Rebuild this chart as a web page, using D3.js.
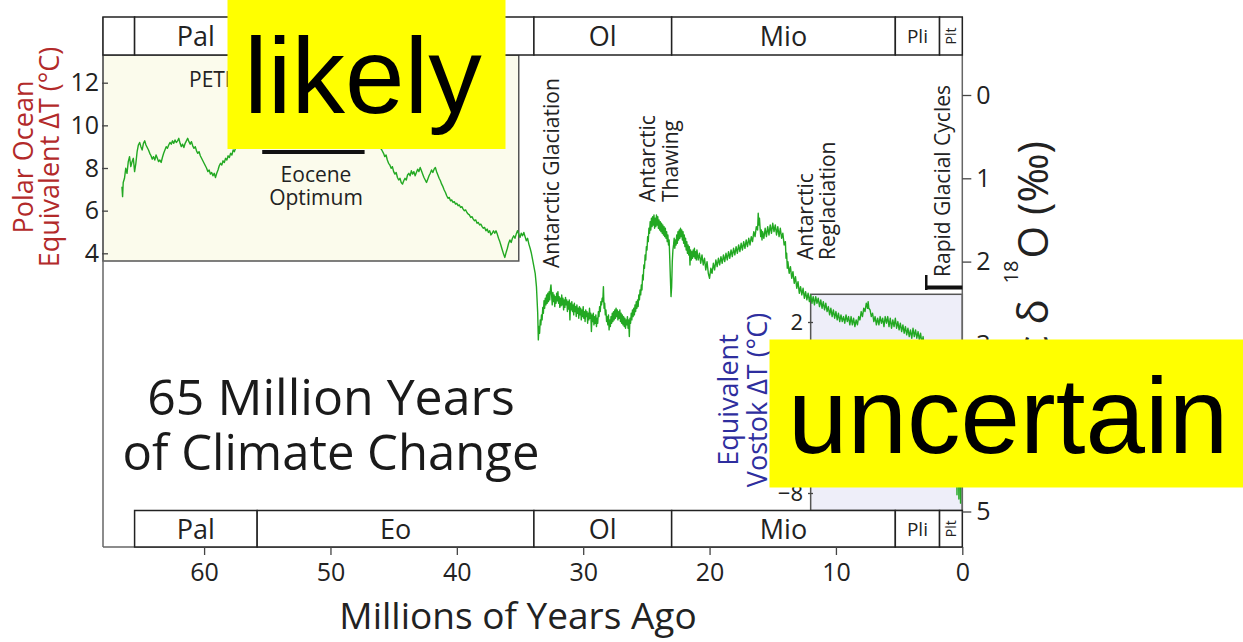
<!DOCTYPE html>
<html>
<head>
<meta charset="utf-8">
<script src="https://cdn.jsdelivr.net/npm/d3@7"></script>
<style>
  html, body { margin: 0; padding: 0; background: #fff; }
  svg { display: block; }
</style>
</head>
<body>
<svg id="chart" width="1243" height="642"></svg>
<script>
// ---------------- DATA ----------------
// Geological epochs (Ma)
const epochNames  = ["Pal", "Eo", "Ol", "Mio", "Pli", "Plt"];
const epochStarts = [65.5, 55.8, 33.9, 23.0, 5.3, 1.8];
const epochEnds   = [55.8, 33.9, 23.0, 5.3, 1.8, 0];

// Tick labels
const ageTicks     = [60, 50, 40, 30, 20, 10, 0];
const d18OTicks    = [0, 1, 2, 3, 4, 5];
const polarTicks   = [4, 6, 8, 10, 12];
const vostokTicks  = [2, 0, -2, -4, -6, -8];

// Benthic δ18O record, [age (Ma), δ18O (‰)]
const paleocene = [
  [66.5,1.10],[66.45,1.22],[66.4,1.05],[66.3,1.00],[66.2,0.88],[66.1,0.94],[66.0,0.80],[65.9,0.74],[65.8,0.86],[65.7,0.80],
  [65.6,0.76],[65.5,0.92],[65.4,0.82],[65.3,0.68],[65.2,0.60],[65.1,0.57],[65.0,0.62],[64.9,0.66],[64.8,0.58],[64.7,0.55],
  [64.6,0.60],[64.5,0.63],[64.4,0.66],[64.3,0.70],[64.2,0.73],[64.1,0.77],[64.0,0.74],[63.9,0.78],[63.8,0.72],[63.7,0.76],
  [63.6,0.80],[63.5,0.78],[63.4,0.81],[63.3,0.75],[63.2,0.70],[63.1,0.66],[63.0,0.62],[62.9,0.64],[62.8,0.60],[62.7,0.57],
  [62.6,0.59],[62.5,0.55],[62.4,0.58],[62.3,0.54],[62.2,0.57],[62.1,0.55],[62.0,0.52],[61.9,0.58],[61.8,0.62],[61.7,0.59],
  [61.6,0.63],[61.5,0.58],[61.4,0.55],[61.3,0.52],[61.2,0.56],[61.1,0.59],[61.0,0.56],[60.9,0.61],[60.8,0.64],[60.7,0.62],
  [60.6,0.67],[60.5,0.70],[60.4,0.68],[60.3,0.73],[60.2,0.76],[60.1,0.79],[60.0,0.82],[59.9,0.85],[59.8,0.88],[59.7,0.92],
  [59.6,0.90],[59.5,0.95],[59.4,0.93],[59.3,0.97],[59.2,0.94],[59.1,0.99],[59.0,0.94],[58.9,0.90],[58.8,0.85],[58.7,0.82],
  [58.6,0.84],[58.5,0.79],[58.4,0.81],[58.3,0.76],[58.2,0.78],[58.1,0.73],[58.0,0.75],[57.9,0.70],[57.8,0.72],[57.7,0.66],
  [57.6,0.68],[57.5,0.63]
];
const eocene = [
  [57.4,0.62],[57.0,0.55],[56.5,0.48],[56.0,0.40],[55.5,-0.15],[55.2,0.25],[54.5,0.20],[53.5,0.05],[52.5,-0.10],[51.5,-0.05],
  [50.5,0.00],[49.5,0.10],[48.5,0.25],[47.5,0.40],[46.8,0.50],[46.3,0.58],
  [45.94,0.66],[45.8,0.70],[45.7,0.74],[45.6,0.72],[45.5,0.78],[45.4,0.82],[45.3,0.84],[45.2,0.88],[45.1,0.86],[45.0,0.92],
  [44.9,0.95],[44.8,0.93],[44.7,0.99],[44.6,1.02],[44.5,1.00],[44.4,1.05],[44.3,1.07],[44.2,1.03],[44.1,1.00],[44.0,1.02],
  [43.9,0.96],[43.8,0.94],[43.7,0.97],[43.6,0.91],[43.5,0.95],[43.4,0.92],[43.3,0.97],[43.2,0.93],[43.1,0.89],[43.0,0.92],
  [42.9,0.87],[42.8,0.91],[42.7,0.95],[42.6,0.99],[42.5,1.02],[42.4,1.05],[42.3,1.01],[42.2,0.97],[42.1,0.94],[42.0,0.90],
  [41.9,0.93],[41.8,0.89],[41.7,0.87],[41.6,0.92],[41.5,0.96],[41.4,1.00],[41.3,1.03],[41.2,1.07],[41.1,1.10],[41.0,1.14],
  [40.9,1.17],[40.8,1.21],[40.7,1.24],[40.6,1.23],[40.5,1.27],[40.4,1.26],[40.3,1.29],[40.2,1.28],[40.1,1.31],[40.0,1.30],
  [39.9,1.33],[39.8,1.32],[39.7,1.35],[39.6,1.34],[39.5,1.37],[39.4,1.39],[39.3,1.38],[39.2,1.41],[39.1,1.43],[39.0,1.44],
  [38.9,1.47],[38.8,1.46],[38.7,1.49],[38.6,1.51],[38.5,1.50],[38.4,1.54],[38.3,1.53],[38.2,1.56],[38.1,1.55],[38.0,1.58],
  [37.9,1.60],[37.8,1.59],[37.7,1.63],[37.6,1.61],[37.5,1.65],[37.4,1.63],[37.3,1.68],[37.2,1.66],[37.1,1.63],[37.0,1.66],
  [36.9,1.63],[36.8,1.67],[36.7,1.72],[36.6,1.76],[36.5,1.81],[36.4,1.86],[36.3,1.91],[36.2,1.95],[36.1,1.89],[36.0,1.84],
  [35.9,1.78],[35.8,1.74],[35.7,1.77],[35.6,1.72],[35.5,1.69],[35.4,1.72],[35.3,1.67],[35.2,1.63],[35.1,1.67],[35.0,1.71],
  [34.9,1.66],[34.8,1.69],[34.7,1.65],[34.6,1.70],[34.5,1.75],[34.4,1.72],[34.3,1.79],[34.2,1.84],[34.1,1.90],[34.0,1.98],
  [33.9,2.06],[33.8,2.14],[33.7,2.30]
];
const oligocene = [
  [33.6,2.62],[33.55,2.94],[33.5,2.78],[33.45,2.86],[33.4,2.70],[33.35,2.76],[33.3,2.64],[33.25,2.70],[33.2,2.55],[33.15,2.62],
  [33.1,2.47],[33.05,2.56],[33.0,2.44],[32.95,2.52],[32.9,2.40],[32.85,2.50],[32.8,2.38],[32.75,2.48],[32.7,2.36],[32.65,2.46],
  [32.6,2.34],[32.55,2.28],[32.5,2.40],[32.45,2.52],[32.4,2.37],[32.35,2.48],[32.3,2.40],[32.25,2.54],[32.2,2.42],[32.15,2.50],
  [32.1,2.38],[32.05,2.47],[32.0,2.36],[31.95,2.50],[31.9,2.42],[31.85,2.55],[31.8,2.44],[31.75,2.53],[31.7,2.40],[31.65,2.52],
  [31.6,2.44],[31.55,2.58],[31.5,2.46],[31.45,2.55],[31.4,2.43],[31.35,2.52],[31.3,2.46],[31.25,2.60],[31.2,2.48],[31.15,2.57],
  [31.1,2.46],[31.05,2.70],[31.0,2.50],[30.95,2.58],[30.9,2.48],[30.85,2.60],[30.8,2.52],[30.75,2.64],[30.7,2.50],[30.65,2.60],
  [30.6,2.54],[30.55,2.66],[30.5,2.52],[30.45,2.62],[30.4,2.56],[30.35,2.68],[30.3,2.54],[30.25,2.64],[30.2,2.56],[30.15,2.70],
  [30.1,2.58],[30.05,2.66],[30.0,2.54],[29.95,2.68],[29.9,2.60],[29.85,2.72],[29.8,2.58],[29.75,2.66],[29.7,2.60],[29.65,2.74],
  [29.6,2.62],[29.55,2.70],[29.5,2.56],[29.45,2.68],[29.4,2.62],[29.35,2.84],[29.3,2.64],[29.25,2.72],[29.2,2.62],[29.15,2.76],
  [29.1,2.66],[29.05,2.74],[29.0,2.64],[28.95,2.78],[28.9,2.68],[28.85,2.74],[28.8,2.60],[28.75,2.66],[28.7,2.54],[28.65,2.60],
  [28.6,2.48],[28.55,2.52],[28.5,2.44],[28.45,2.48],[28.4,2.30],[28.35,2.56],[28.3,2.50],[28.25,2.64],[28.2,2.58],[28.15,2.72],
  [28.1,2.66],[28.05,2.76],[28.0,2.64],[27.95,2.82],[27.9,2.70],[27.85,2.78],[27.8,2.66],[27.75,2.74],[27.7,2.62],[27.65,2.72],
  [27.6,2.60],[27.55,2.70],[27.5,2.58],[27.45,2.68],[27.4,2.56],[27.35,2.66],[27.3,2.58],[27.25,2.70],[27.2,2.60],[27.15,2.68],
  [27.1,2.58],[27.05,2.72],[27.0,2.62],[26.95,2.74],[26.9,2.64],[26.85,2.76],[26.8,2.66],[26.75,2.78],[26.7,2.68],[26.65,2.80],
  [26.6,2.70],[26.55,2.76],[26.5,2.66],[26.45,2.80],[26.4,2.70],[26.35,2.90],[26.3,2.68],[26.25,2.74],[26.2,2.62],[26.15,2.70],
  [26.1,2.58],[26.05,2.66],[26.0,2.56],[25.95,2.64],[25.9,2.52],[25.85,2.60],[25.8,2.48],[25.75,2.56],[25.7,2.46],[25.65,2.54],
  [25.6,2.40],[25.55,2.46],[25.5,2.34],[25.45,2.40],[25.4,2.28],[25.35,2.34],[25.3,2.16],[25.25,2.22],[25.2,2.04],[25.15,2.08],
  [25.1,1.92],[25.05,1.98],[25.0,1.82],[24.95,1.86],[24.9,1.70],[24.85,1.76],[24.8,1.60],[24.75,1.66],[24.7,1.52],[24.65,1.62],
  [24.6,1.48],[24.55,1.58],[24.5,1.46],[24.45,1.56],[24.4,1.44],[24.35,1.60],[24.3,1.48],[24.25,1.58],[24.2,1.44],[24.15,1.56],
  [24.1,1.46],[24.05,1.60],[24.0,1.50],[23.95,1.62],[23.9,1.52],[23.85,1.64],[23.8,1.54],[23.75,1.66],[23.7,1.56],[23.65,1.68],
  [23.6,1.58],[23.55,1.70],[23.5,1.60],[23.45,1.72],[23.4,1.64],[23.35,1.76],[23.3,1.68],[23.25,1.80],[23.2,1.74],[23.15,1.96],
  [23.1,2.20],[23.05,2.42],[23.0,2.30]
];
const miocene = [
  [22.95,2.00],[22.9,1.86],[22.85,1.80],[22.8,1.72],[22.75,1.84],[22.7,1.74],[22.65,1.80],[22.6,1.68],[22.55,1.78],[22.5,1.64],
  [22.45,1.74],[22.4,1.62],[22.35,1.72],[22.3,1.60],[22.25,1.70],[22.2,1.62],[22.15,1.74],[22.1,1.64],[22.05,1.78],[22.0,1.68],
  [21.95,1.82],[21.9,1.72],[21.85,1.86],[21.8,1.76],[21.75,1.90],[21.7,1.80],[21.65,1.92],[21.6,1.82],[21.55,2.04],[21.5,1.86],
  [21.45,1.98],[21.4,1.88],[21.35,1.96],[21.3,1.86],[21.25,1.94],[21.2,1.84],[21.15,1.96],[21.1,1.88],[21.05,1.98],[21.0,1.86],
  [20.9,1.98],[20.8,1.90],[20.7,2.02],[20.6,1.92],[20.5,2.04],[20.4,1.96],[20.3,2.10],[20.2,2.00],[20.1,2.14],[20.0,2.20],
  [19.9,2.08],[19.8,2.14],[19.7,2.02],[19.6,2.10],[19.5,1.98],[19.4,2.06],[19.3,1.96],[19.2,2.04],[19.1,1.94],[19.0,2.02],
  [18.9,1.92],[18.8,2.00],[18.7,1.90],[18.6,1.98],[18.5,1.88],[18.4,1.96],[18.3,1.86],[18.2,1.94],[18.1,1.84],[18.0,1.92],
  [17.9,1.82],[17.8,1.90],[17.7,1.80],[17.6,1.88],[17.5,1.78],[17.4,1.86],[17.3,1.76],[17.2,1.84],[17.1,1.74],[17.0,1.82],
  [16.9,1.72],[16.8,1.80],[16.7,1.70],[16.6,1.76],[16.5,1.64],[16.4,1.70],[16.3,1.58],[16.2,1.62],[16.15,1.42],[16.1,1.56],
  [16.05,1.48],[16.0,1.60],[15.95,1.70],[15.9,1.62],[15.85,1.74],[15.8,1.64],[15.7,1.72],[15.6,1.60],[15.5,1.70],[15.4,1.58],
  [15.3,1.68],[15.2,1.56],[15.1,1.66],[15.0,1.54],[14.9,1.64],[14.8,1.56],[14.7,1.68],[14.6,1.58],[14.5,1.70],[14.4,1.60],
  [14.3,1.72],[14.2,1.66],[14.1,1.80],[14.0,1.76],[13.95,1.96],[13.9,1.90],[13.85,2.08],[13.8,2.00],[13.7,2.14],[13.6,2.06],
  [13.5,2.20],[13.4,2.12],[13.3,2.26],[13.2,2.18],[13.1,2.32],[13.0,2.24],[12.9,2.38],[12.8,2.30],[12.7,2.40],[12.6,2.32],
  [12.5,2.44],[12.4,2.36],[12.3,2.46],[12.2,2.38],[12.1,2.48],[12.0,2.40],[11.9,2.50],[11.8,2.42],[11.7,2.52],[11.6,2.42],
  [11.5,2.50],[11.4,2.44],[11.3,2.54],[11.2,2.46],[11.1,2.56],[11.0,2.48],[10.9,2.58],[10.8,2.50],[10.7,2.60],[10.6,2.54],
  [10.5,2.64],[10.4,2.56],[10.3,2.66],[10.2,2.58],[10.1,2.68],[10.0,2.60],[9.9,2.70],[9.8,2.62],[9.7,2.72],[9.6,2.64],
  [9.5,2.72],[9.4,2.66],[9.3,2.74],[9.2,2.64],[9.1,2.72],[9.0,2.66],[8.9,2.76],[8.8,2.66],[8.7,2.76],[8.6,2.68],
  [8.5,2.78],[8.4,2.70],[8.3,2.76],[8.2,2.66],[8.1,2.70],[8.0,2.60],[7.9,2.66],[7.8,2.56],[7.7,2.60],[7.6,2.50],
  [7.5,2.56],[7.45,2.48],[7.4,2.56],[7.3,2.58],[7.2,2.66],[7.1,2.62],[7.0,2.72],[6.9,2.66],[6.8,2.76],[6.7,2.68],
  [6.6,2.76],[6.5,2.66],[6.4,2.74],[6.3,2.68],[6.2,2.78],[6.1,2.66],[6.0,2.74],[5.9,2.66],[5.8,2.78],[5.7,2.68],
  [5.6,2.80],[5.5,2.70],[5.4,2.78],[5.3,2.68]
];
const plioPleistocene = [
  [5.2,2.80],[5.1,2.72],[5.0,2.82],[4.9,2.74],[4.8,2.84],[4.7,2.76],[4.6,2.86],[4.5,2.78],[4.4,2.88],[4.3,2.80],
  [4.2,2.90],[4.1,2.82],[4.0,2.92],[3.9,2.80],[3.8,2.90],[3.7,2.82],[3.6,2.92],[3.5,2.84],[3.4,2.94],[3.3,2.86],
  [3.2,2.98],[3.1,2.90],[3.0,3.10],[2.9,2.96],[2.8,3.20],[2.7,3.02],[2.6,3.30],[2.5,3.08],[2.4,3.36],[2.3,3.10],
  [2.2,3.45],[2.1,3.15],[2.0,3.50],[1.9,3.20],[1.8,3.55],[1.7,3.22],[1.6,3.60],[1.5,3.25],[1.4,3.70],[1.3,3.28],
  [1.2,3.80],[1.1,3.30],[1.0,4.00],[0.9,3.30],[0.8,4.30],[0.7,3.30],[0.6,4.60],[0.5,3.25],[0.42,4.80],[0.35,3.30],
  [0.27,4.85],[0.2,3.25],[0.14,4.90],[0.08,3.30],[0.02,4.70],[0.0,3.40]
];

// ---------------- SCALES ----------------
const svg = d3.select("#chart");
const FONT = "'Open Sans', 'DejaVu Sans', sans-serif";
const x  = d3.scaleLinear().domain([68, 0]).range([103, 962.3]);
const yD = d3.scaleLinear().domain([0, 5]).range([95, 511.5]);       // δ18O (‰)
const yT = d3.scaleLinear().domain([4, 12]).range([253.3, 82.7]);    // Polar ocean ΔT
const yV = d3.scaleLinear().domain([2, -8]).range([322, 493]);       // Vostok ΔT

const frameTop = 17, plotTop = 55, plotBottom = 510.5, axisY = 547;
const ink = "#222";

function txt(sel) { return sel.style("font-family", FONT); }

// ---------------- BACKGROUND BOXES ----------------
svg.append("rect")
  .attr("x", x(68)).attr("y", plotTop)
  .attr("width", x(35.1) - x(68)).attr("height", 261 - plotTop)
  .attr("fill", "#fbfbec").attr("stroke", "#555").attr("stroke-width", 1.5);
svg.append("rect")
  .attr("x", x(12.0)).attr("y", 294.3)
  .attr("width", x(0) - x(12.0)).attr("height", plotBottom - 294.3)
  .attr("fill", "#eeeef9").attr("stroke", "#555").attr("stroke-width", 1.5);

// ---------------- FRAME ----------------
svg.append("line").attr("x1", x(68)).attr("x2", x(68)).attr("y1", frameTop).attr("y2", axisY)
  .attr("stroke", "#666").attr("stroke-width", 1.5);
svg.append("line").attr("x1", x(68)).attr("x2", x(0)).attr("y1", axisY).attr("y2", axisY)
  .attr("stroke", "#666").attr("stroke-width", 1.5);
svg.append("line").attr("x1", x(0)).attr("x2", x(0)).attr("y1", frameTop).attr("y2", axisY)
  .attr("stroke", "#666").attr("stroke-width", 1.5);

// ---------------- EPOCH BANDS ----------------
function band(y0, y1, withLead) {
  const g = svg.append("g");
  if (withLead) {
    g.append("rect").attr("x", x(68)).attr("y", y0).attr("width", x(65.5) - x(68)).attr("height", y1 - y0)
      .attr("fill", "#fff").attr("stroke", ink).attr("stroke-width", 1.5);
  }
  epochNames.forEach((n, i) => {
    const x0 = x(epochStarts[i]), x1 = x(epochEnds[i]);
    g.append("rect").attr("x", x0).attr("y", y0).attr("width", x1 - x0).attr("height", y1 - y0)
      .attr("fill", "#fff").attr("stroke", ink).attr("stroke-width", 1.5);
    const cx = (x0 + x1) / 2, cy = (y0 + y1) / 2;
    if (n === "Plt") {
      txt(g.append("text")).attr("transform", `translate(${cx + 5},${cy}) rotate(-90)`)
        .attr("text-anchor", "middle").attr("font-size", 14).attr("fill", ink).text(n);
    } else {
      txt(g.append("text")).attr("x", cx).attr("y", cy + (n === "Pli" ? 7 : 10))
        .attr("text-anchor", "middle").attr("font-size", n === "Pli" ? 19 : 27).attr("fill", ink).text(n);
    }
  });
}
band(frameTop, plotTop, true);
band(plotBottom, axisY, false);

// ---------------- AXES ----------------
function styleAxis(g, size) {
  g.select(".domain").remove();
  g.selectAll(".tick line").attr("stroke", "#444").attr("stroke-width", 1.3);
  g.selectAll(".tick text").style("font-family", FONT).attr("font-size", size).attr("fill", ink);
}
svg.append("g").attr("transform", `translate(0,${axisY})`)
  .call(d3.axisBottom(x).tickValues(ageTicks).tickSize(8).tickPadding(8).tickFormat(d3.format("d")))
  .call(g => styleAxis(g, 25));
svg.append("g").attr("transform", `translate(108,0)`)
  .call(d3.axisLeft(yT).tickValues(polarTicks).tickSize(6).tickPadding(3).tickFormat(d3.format("d")))
  .call(g => styleAxis(g, 25));
svg.append("g").attr("transform", `translate(${x(0)},0)`)
  .call(d3.axisRight(yD).tickValues(d18OTicks).tickSize(9).tickPadding(5).tickFormat(d3.format("d")))
  .call(g => styleAxis(g, 25));
svg.append("g").attr("transform", `translate(813,0)`)
  .call(d3.axisLeft(yV).tickValues(vostokTicks).tickSize(5).tickPadding(5).tickFormat(d3.format("d")))
  .call(g => styleAxis(g, 22));

// ---------------- AXIS TITLES ----------------
txt(svg.append("text")).attr("x", 518).attr("y", 629).attr("text-anchor", "middle")
  .attr("font-size", 37).attr("fill", ink).text("Millions of Years Ago");

const polar = txt(svg.append("text")).attr("transform", "translate(0,157) rotate(-90)")
  .attr("text-anchor", "middle").attr("font-size", 27).attr("fill", "#b22a2a");
polar.append("tspan").attr("x", 0).attr("y", 33).text("Polar Ocean");
polar.append("tspan").attr("x", 0).attr("y", 59).text("Equivalent \u0394T (\u00B0C)");

const vost = txt(svg.append("text")).attr("transform", "translate(0,400) rotate(-90)")
  .attr("text-anchor", "middle").attr("font-size", 27).attr("fill", "#2e2e9e");
vost.append("tspan").attr("x", 0).attr("y", 738).text("Equivalent");
vost.append("tspan").attr("x", 0).attr("y", 767).text("Vostok \u0394T (\u00B0C)");

const dt = txt(svg.append("text")).attr("transform", "translate(1048,141) rotate(-90)")
  .attr("text-anchor", "end").attr("font-size", 42).attr("fill", ink);
dt.append("tspan").text("Benthic \u03B4");
dt.append("tspan").attr("font-size", 20).attr("dx", 16).attr("dy", -30).text("18");
dt.append("tspan").attr("dx", 2).attr("dy", 30).text("O (\u2030)");

// ---------------- CURVE ----------------
const pts = [].concat(paleocene, eocene, oligocene, miocene, plioPleistocene);
svg.append("path").datum(pts)
  .attr("fill", "none").attr("stroke", "#22a822").attr("stroke-width", 1.4)
  .attr("stroke-linejoin", "round")
  .attr("d", d3.line().x(d => x(d[0])).y(d => yD(d[1])));

// ---------------- ANNOTATIONS ----------------
txt(svg.append("text")).attr("x", 189).attr("y", 87).attr("font-size", 21).attr("fill", ink).text("PETM");
svg.append("rect").attr("x", x(55.4)).attr("y", 150).attr("width", x(47.3) - x(55.4)).attr("height", 4).attr("fill", "#111");
txt(svg.append("text")).attr("x", 316).attr("y", 182).attr("text-anchor", "middle").attr("font-size", 21).attr("fill", ink).text("Eocene");
txt(svg.append("text")).attr("x", 316).attr("y", 205).attr("text-anchor", "middle").attr("font-size", 21).attr("fill", ink).text("Optimum");

function vText(lines, baseXs, startY) {
  lines.forEach((t, i) => {
    txt(svg.append("text")).attr("transform", `translate(${baseXs[i]},${startY}) rotate(-90)`)
      .attr("font-size", 21).attr("fill", ink).text(t);
  });
}
vText(["Antarctic Glaciation"], [559], 268);
vText(["Antarctic", "Thawing"], [655, 678], 202);
vText(["Antarctic", "Reglaciation"], [813, 835], 260);
vText(["Rapid Glacial Cycles"], [950], 277);
svg.append("rect").attr("x", 925).attr("y", 275).attr("width", 2.5).attr("height", 15).attr("fill", "#111");
svg.append("rect").attr("x", 925).attr("y", 285.5).attr("width", x(0) - 925).attr("height", 4).attr("fill", "#111");

// Chart title
txt(svg.append("text")).attr("x", 331).attr("y", 415).attr("text-anchor", "middle").attr("font-size", 50).attr("fill", "#1a1a1a").text("65 Million Years");
txt(svg.append("text")).attr("x", 331).attr("y", 470).attr("text-anchor", "middle").attr("font-size", 49).attr("fill", "#1a1a1a").text("of Climate Change");

// ---------------- OVERLAY LABELS ----------------
svg.append("rect").attr("x", 227.5).attr("y", 0).attr("width", 278).attr("height", 149).attr("fill", "#ffff00");
svg.append("text").attr("x", 244).attr("y", 113).style("font-family", "'Liberation Sans', Arial, sans-serif")
  .attr("font-size", 107).attr("fill", "#000").text("likely");
svg.append("rect").attr("x", 769.5).attr("y", 339.5).attr("width", 1243 - 769.5).attr("height", 148).attr("fill", "#ffff00");
svg.append("text").attr("x", 788).attr("y", 453).style("font-family", "'Liberation Sans', Arial, sans-serif")
  .attr("font-size", 107).attr("fill", "#000").text("uncertain");
</script>
</body>
</html>
